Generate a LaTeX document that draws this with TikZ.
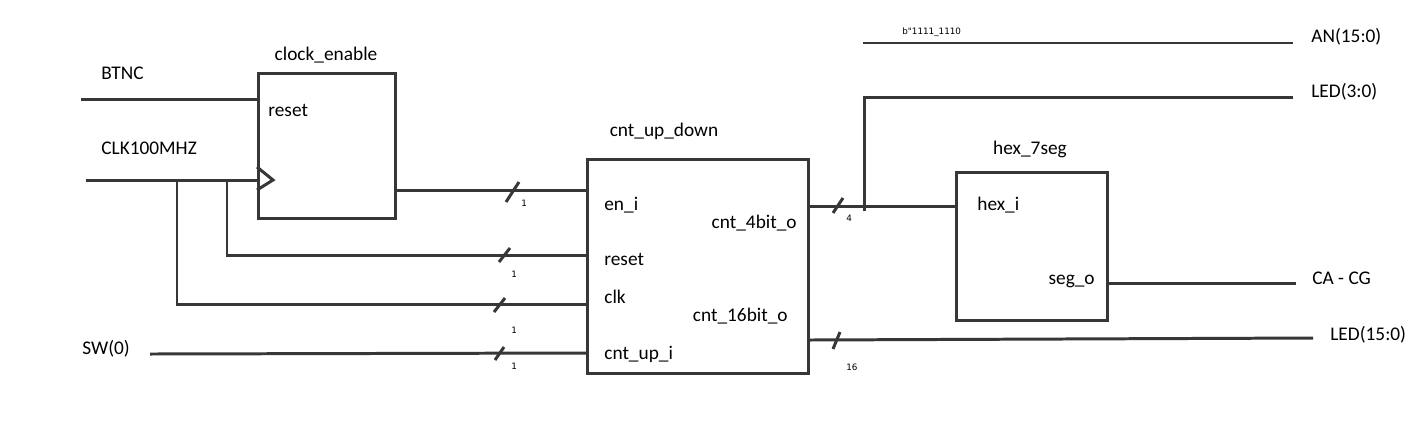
\documentclass[tikz,border=0pt]{standalone}
\usepackage{fontspec}
\setmainfont{Carlito}
\newfontfamily\smallfont{DejaVu Sans}
\definecolor{wirec}{RGB}{55,55,55}
\begin{document}
\begin{tikzpicture}[x=0.02cm,y=-0.02cm,
  wire/.style={line width=1.7pt, draw=wirec},
  blk/.style={draw=wirec, line width=1.7pt, rectangle, anchor=north west, inner sep=0pt},
  lbl/.style={font=\fontsize{11}{13}\selectfont, inner sep=0pt, text=black},
  bus/.style={font=\smallfont\fontsize{5}{6}\selectfont, inner sep=0pt, text=black}]
\useasboundingbox (0,0) rectangle (1422,437);
\fill[white] (0,0) rectangle (1422,437);

% blocks
\node[blk, minimum width=2.74cm, minimum height=2.9cm] (ce) at (257,72) {};
\node[blk, minimum width=4.42cm, minimum height=4.28cm] (cnt) at (586,158) {};
\node[blk, minimum width=3.02cm, minimum height=2.96cm] (hex) at (955,171) {};

% titles
\node[lbl, anchor=base] (ceT) at (326,60) {clock\_enable};
\node[lbl, anchor=base] (cntT) at (664,136) {cnt\_up\_down};
\node[lbl, anchor=base] (hexT) at (1030,154) {hex\_7seg};

% inner port labels
\node[lbl, anchor=base west] (ceR) at (268,116) {reset};
\node[lbl, anchor=base west] (cEn) at (604,210) {en\_i};
\node[lbl, anchor=base west] (cRst) at (604,265) {reset};
\node[lbl, anchor=base west] (cClk) at (604,303) {clk};
\node[lbl, anchor=base west] (cUp) at (604,359) {cnt\_up\_i};
\node[lbl, anchor=base east] (c4) at (797,228) {cnt\_4bit\_o};
\node[lbl, anchor=base east] (c16) at (788,321) {cnt\_16bit\_o};
\node[lbl, anchor=base west] (hI) at (977,210) {hex\_i};
\node[lbl, anchor=base east] (hO) at (1095,284) {seg\_o};

% external labels
\node[lbl, anchor=base west] (tBtnc) at (101,79) {BTNC};
\node[lbl, anchor=base west] (tClk) at (101,154) {CLK100MHZ};
\node[lbl, anchor=base west] (tSw) at (82,354) {SW(0)};
\node[lbl, anchor=base west] (tAn) at (1311,42) {AN(15:0)};
\node[lbl, anchor=base west] (tLed3) at (1311,97) {LED(3:0)};
\node[lbl, anchor=base west] (tCa) at (1312,284) {CA - CG};
\node[lbl, anchor=base west] (tLed15) at (1330,340) {LED(15:0)};

% bus width labels
\node[bus, anchor=base west] (w1) at (521,206) {1};
\node[bus, anchor=base west] (w2) at (511,277) {1};
\node[bus, anchor=base west] (w3) at (511,333) {1};
\node[bus, anchor=base west] (w4) at (511,369) {1};
\node[bus, anchor=base west] (w5) at (846,221) {4};
\node[bus, anchor=base west] (w6) at (846,370) {16};
\node[bus, anchor=base west] (wAn) at (902,34) {b"1111\_1110};

% free ends
\coordinate (btnc) at (81,99);
\coordinate (clkin) at (86,180);
\coordinate (tapA) at (177,180);
\coordinate (tapB) at (227,180);
\coordinate (sw) at (150,354);
\coordinate (j4) at (864,211);
\coordinate (led3) at (1293,97);
\coordinate (anS) at (863,43);
\coordinate (anE) at (1293,43);
\coordinate (segE) at (1296,283);
\coordinate (led15) at (1313,338);

% wires
\draw[wire] (btnc) -- (ce.west |- btnc);
\draw[wire] (clkin) -- (ce.west |- clkin);
\draw[wire, line join=miter] (ce.west |- 0,167) -- ++(16,13) -- ++(-16,10);
\draw[wire] (tapA) |- (cnt.west |- 0,304);
\draw[wire] (tapB) |- (cnt.west |- 0,255);
\draw[wire] (ce.east |- 0,190) -- (cnt.west |- 0,190);
\draw[wire] (sw) -- (cnt.west |- 0,353);
\draw[wire] (cnt.east |- 0,206) -- (hex.west |- 0,206);
\draw[wire] (j4) |- (led3);
\draw[wire] (anS) -- (anE);
\draw[wire] (hex.east |- 0,283) -- (segE);
\draw[wire] (cnt.east |- 0,340) -- (led15);

% bus slashes
\draw[wire] (506,202) -- (519,182);
\draw[wire] (499,262) -- (510,248);
\draw[wire] (494,312) -- (505,298);
\draw[wire] (495,360) -- (504,347);
\draw[wire] (833,213) -- (843,198);
\draw[wire] (833,349) -- (840,332);
\end{tikzpicture}
\end{document}
